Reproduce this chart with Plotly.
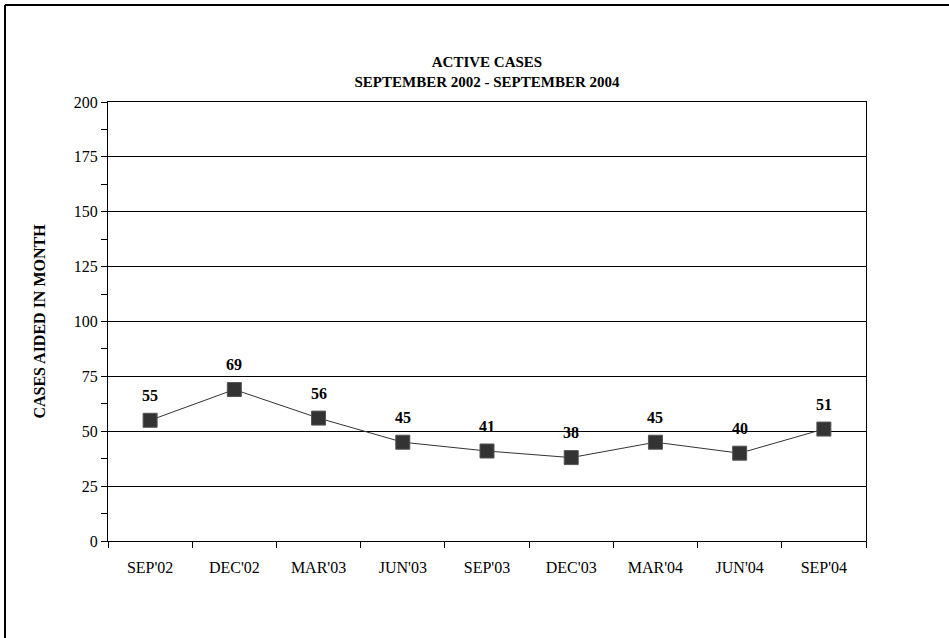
import plotly.graph_objects as go

categories = ["SEP'02", "DEC'02", "MAR'03", "JUN'03", "SEP'03", "DEC'03", "MAR'04", "JUN'04", "SEP'04"]
cases = [55, 69, 56, 45, 41, 38, 45, 40, 51]
y_ticks = [0, 25, 50, 75, 100, 125, 150, 175, 200]

FONT = "Liberation Serif"
W, H = 949, 638
ML, MT = 108, 102
MR = W - 866
MB = H - 541
PW, PH = W - ML - MR, H - MT - MB

fig = go.Figure()
fig.add_trace(go.Scatter(
    x=categories, y=cases, mode="lines+markers",
    line=dict(color="#333333", width=1),
    marker=dict(symbol="square", size=14, color="#333333",
                line=dict(color="#555555", width=1)),
    hoverinfo="x+y", showlegend=False,
))

for c, v in zip(categories, cases):
    fig.add_annotation(x=c, y=v, text=f"<b>{v}</b>", showarrow=False,
                       yshift=25, font=dict(family=FONT, size=16, color="black"))

# outer frame (top and left edges visible), page coords -> paper coords
px = lambda p: (p - ML) / PW
py = lambda p: 1 - (p - MT) / PH
fig.add_shape(type="line", xref="paper", yref="paper",
              x0=px(5), x1=px(960), y0=py(5), y1=py(5),
              line=dict(color="black", width=2))
fig.add_shape(type="line", xref="paper", yref="paper",
              x0=px(5), x1=px(5), y0=py(5), y1=py(660),
              line=dict(color="black", width=2))

fig.update_layout(
    width=W, height=H,
    margin=dict(l=ML, r=MR, t=MT, b=MB),
    paper_bgcolor="white", plot_bgcolor="white",
    font=dict(family=FONT, size=16, color="black"),
    title=dict(text="<b>ACTIVE CASES<br>SEPTEMBER 2002 - SEPTEMBER 2004</b>",
               x=0.5, xref="paper", xanchor="center",
               y=1 - 67 / H, yref="container", yanchor="middle",
               font=dict(family=FONT, size=15, color="black")),
    xaxis=dict(type="category", tickson="boundaries", ticks="outside", ticklen=6,
               tickcolor="black", showline=True, linecolor="black", linewidth=1,
               mirror=True, showgrid=False, tickfont=dict(size=16),
               ticklabelstandoff=12, range=[-0.5, 8.5]),
    yaxis=dict(range=[0, 200], tickvals=y_ticks, ticks="outside", ticklen=6,
               tickcolor="black", showline=True, linecolor="black", linewidth=1,
               mirror=True, showgrid=True, gridcolor="black", gridwidth=1,
               zeroline=False, tickfont=dict(size=16),
               minor=dict(dtick=12.5, ticks="outside", ticklen=6, tickcolor="black", showgrid=False),
               title=dict(text="<b>CASES AIDED IN MONTH</b>", standoff=24,
                          font=dict(family=FONT, size=16))),
)

fig.write_html("out.html", config={"displayModeBar": False},
               post_script="document.body.style.margin='0';")
